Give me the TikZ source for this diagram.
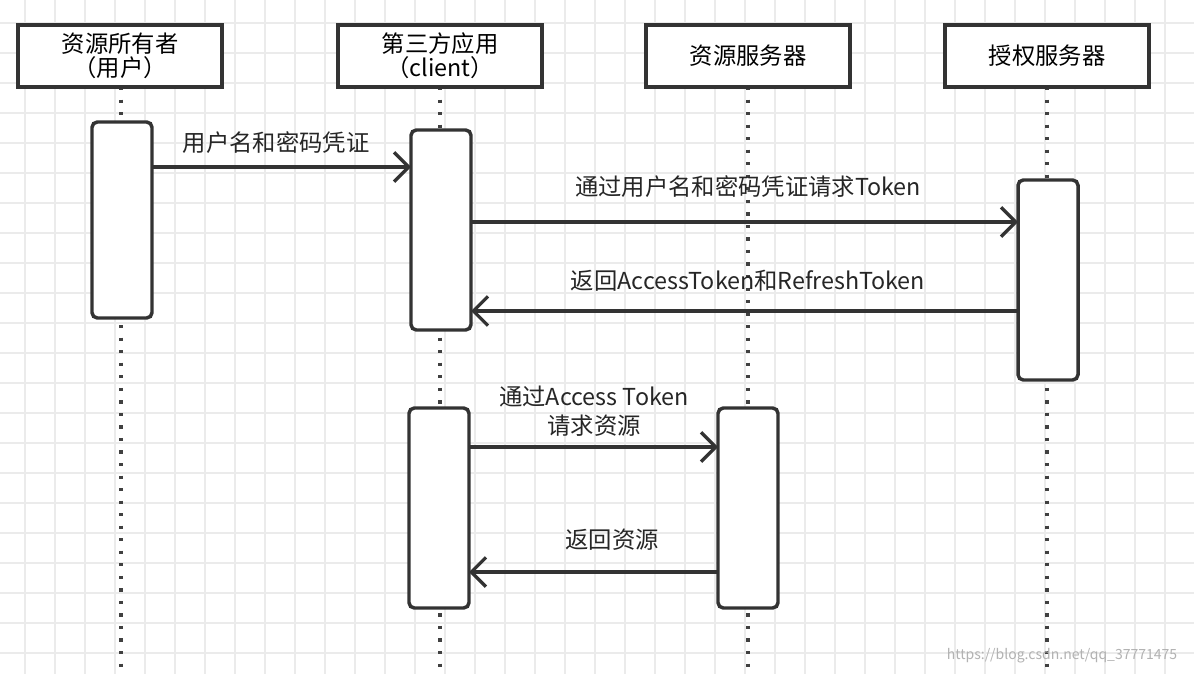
\documentclass[tikz,border=0pt]{standalone}
\usepackage{fontspec}
\setmainfont{Noto Sans CJK SC}
\usetikzlibrary{arrows.meta}
\begin{document}
\begin{tikzpicture}[x=0.75pt,y=-0.75pt,
  actor/.style={draw=black!80,line width=2.6pt,fill=white,minimum width=153pt,minimum height=46.5pt,inner sep=0pt,align=center,font=\fontsize{17.5}{18}\selectfont},
  act/.style={draw=black!80,line width=2.6pt,fill=white,rounded corners=4pt},
  life/.style={draw=black!75,line width=2.6pt,dash pattern=on 2.4pt off 7pt},
  msg/.style={draw=black!80,line width=2.6pt,-{Straight Barb[length=11pt,width=22pt,line width=2.4pt]}},
  lab/.style={font=\fontsize{17.5}{22}\selectfont,align=center,text=black!85}]
\useasboundingbox (0,0) rectangle (1194,674);
\fill[white] (0,0) rectangle (1194,674);
\foreach \i in {0,...,39} {\draw[black!8,line width=1.5pt] (25+30*\i,0) -- (25+30*\i,674);}
\foreach \j in {0,...,22} {\draw[black!8,line width=1.5pt] (0,23+30*\j) -- (1194,23+30*\j);}
% lifelines
\coordinate (l1t) at (121,87); \coordinate (l1b) at (121,674);
\coordinate (l2t) at (440,87); \coordinate (l2b) at (440,674);
\coordinate (l3t) at (748,87); \coordinate (l3b) at (748,674);
\coordinate (l4t) at (1047,87); \coordinate (l4b) at (1047,674);
\draw[life] (l1t) -- (l1b);
\draw[life] (l2t) -- (l2b);
\draw[life] (l3t) -- (l3b);
\draw[life] (l4t) -- (l4b);
% actors
\node[actor] (owner) at (120,56) {资源所有者\\（用户）};
\node[actor] (client) at (440,56) {第三方应用\\（client）};
\node[actor] (rs) at (748,56) {资源服务器};
\node[actor] (as) at (1047,56) {授权服务器};
% activations
\draw[act] (92,122) rectangle (152,318);
\draw[act] (411,130) rectangle (471,330);
\draw[act] (1018,180) rectangle (1078,380);
\draw[act] (409,408) rectangle (469,608);
\draw[act] (718,408) rectangle (778,608);
\coordinate (m1s) at (152,167); \coordinate (m1e) at (411,167);
\coordinate (m2s) at (471,222); \coordinate (m2e) at (1018,222);
\coordinate (m3s) at (1018,311); \coordinate (m3e) at (471,311);
\coordinate (m4s) at (469,447); \coordinate (m4e) at (718,447);
\coordinate (m5s) at (718,572); \coordinate (m5e) at (469,572);
\draw[msg] (m1s) -- (m1e);
\draw[msg] (m2s) -- (m2e);
\draw[msg] (m3s) -- (m3e);
\draw[msg] (m4s) -- (m4e);
\draw[msg] (m5s) -- (m5e);
\node[lab] (t1) at (276,143) {用户名和密码凭证};
\node[lab] (t2) at (748,187) {通过用户名和密码凭证请求Token};
\node[lab] (t3) at (748,281) {返回AccessToken和RefreshToken};
\node[lab] (t4) at (594,411) {通过Access Token\\请求资源};
\node[lab] (t5) at (612,540) {返回资源};
\node[text=black!30,font=\fontsize{10.5}{12}\selectfont] (wm) at (1062,656) {https://blog.csdn.net/qq\_37771475};
\end{tikzpicture}
\end{document}
